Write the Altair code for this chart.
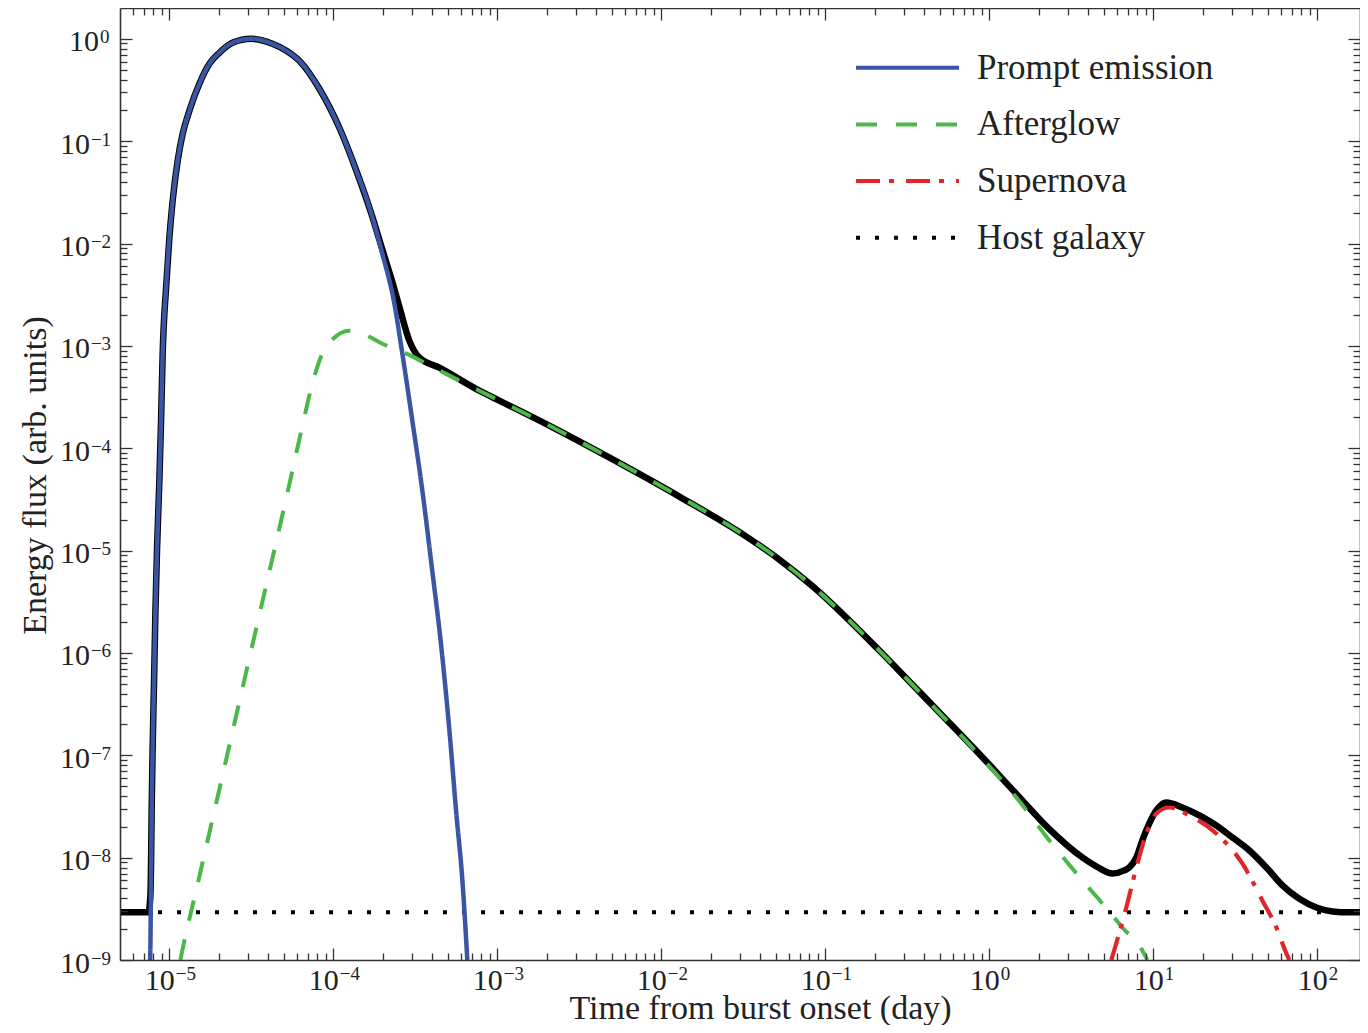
import altair as alt
import pandas as pd

# ---------------- data ----------------
prompt_t = [7.637e-6, 7.659e-6, 7.734e-6, 7.800e-6, 7.910e-6, 8.067e-6, 8.216e-6,
            8.414e-6, 8.689e-6, 8.899e-6, 9.103e-6, 9.547e-6, 1.0e-5, 1.0474e-5,
            1.1237e-5, 1.2054e-5, 1.3243e-5, 1.5237e-5, 1.7538e-5, 2.0184e-5,
            2.4222e-5, 3.1623e-5, 4.25e-5, 5.169e-5, 6.20e-5, 8.21e-5, 1.088e-4,
            1.381e-4, 1.705e-4, 1.99e-4, 2.355e-4, 2.634e-4, 3.03e-4, 3.488e-4,
            3.96e-4, 4.555e-4, 5.10e-4, 5.62e-4, 6.12e-4, 6.56e-4]
prompt_f = [1e-9, 1.328e-9, 5.99e-9, 2.70e-8, 1.192e-7, 5.375e-7, 2.425e-6,
            1.070e-5, 4.828e-5, 1.860e-4, 8.39e-4, 3.70e-3, 1.139e-2, 2.618e-2,
            6.436e-2, 0.1181, 0.1981, 0.3635, 0.5700, 0.7302,
            0.9141, 1.0, 0.894, 0.7636, 0.6095, 0.3249, 0.1351,
            0.0514, 0.01954, 7.94e-3, 2.58e-3, 8.39e-4, 1.862e-4, 3.855e-5,
            7.46e-6, 1.13e-6, 1.747e-7, 2.70e-8, 5.99e-9, 1e-9]

afterglow_t = [1.167e-5, 1.200e-5, 1.524e-5, 1.934e-5, 2.421e-5, 3.162e-5, 3.903e-5,
               5.17e-5, 6.38e-5, 7.34e-5, 8.45e-5, 9.72e-5, 1.252e-4, 1.502e-4,
               1.99e-4, 2.787e-4, 3.69e-4, 5.10e-4, 7.77e-4, 1.028e-3, 1.99e-3,
               5.02e-3, 1.288e-2, 3.30e-2, 5.24e-2, 8.33e-2, 0.1343, 0.2135,
               0.339, 0.547, 0.869, 1.461, 2.322, 3.69, 4.887, 6.47, 8.57, 9.19]
afterglow_f = [1e-9, 1.24e-9, 6.55e-9, 3.46e-8, 1.67e-7, 1.079e-6, 4.66e-6,
               3.30e-5, 1.486e-4, 3.91e-4, 8.02e-4, 1.125e-3, 1.407e-3, 1.315e-3,
               1.05e-3, 8.39e-4, 6.70e-4, 5.12e-4, 3.65e-4, 2.92e-4, 1.72e-4,
               7.82e-5, 3.37e-5, 1.370e-5, 8.17e-6, 4.50e-6, 2.216e-6, 1.055e-6,
               4.913e-7, 2.203e-7, 1.002e-7, 3.87e-8, 1.472e-8, 5.99e-9, 3.57e-9,
               2.08e-9, 1.24e-9, 1e-9]

supernova_t = [5.545, 6.845, 7.88, 9.066, 10.43, 12.52, 16.58, 24.22, 34.88,
               46.2, 56.2, 64.7, 67.5]
supernova_f = [1e-9, 3.27e-9, 8.02e-9, 1.72e-8, 2.70e-8, 3.09e-8, 2.58e-8,
               1.72e-8, 8.77e-9, 3.82e-9, 2.08e-9, 1.16e-9, 1e-9]

host_t = [5e-6, 200]
host_f = [2.92e-9, 2.92e-9]

total_t = [5e-6, 7.45e-6, 7.659e-6, 7.734e-6, 7.800e-6, 7.910e-6, 8.067e-6, 8.216e-6,
           8.414e-6, 8.689e-6, 8.899e-6, 9.103e-6, 9.547e-6, 1.0e-5, 1.0474e-5,
           1.1237e-5, 1.2054e-5, 1.3243e-5, 1.5237e-5, 1.7538e-5, 2.0184e-5,
           2.4222e-5, 3.1623e-5, 4.25e-5, 5.169e-5, 6.20e-5, 8.21e-5, 1.088e-4,
           1.381e-4, 1.705e-4, 1.99e-4, 2.258e-4, 2.526e-4, 2.905e-4, 3.345e-4,
           4.43e-4, 7.77e-4, 1.028e-3, 1.99e-3, 5.02e-3, 1.288e-2, 3.30e-2,
           5.24e-2, 8.33e-2, 0.1343, 0.2135, 0.339, 0.547, 0.869, 1.461, 2.322,
           3.69, 4.686, 5.623, 6.65, 7.14, 7.88, 8.567, 9.45, 10.43, 12.0, 15.03,
           19.08, 24.2, 30.31, 38.5, 48.87, 61.2, 77.7, 98.6, 123.4, 156.7, 200]
total_f = [2.92e-9, 2.92e-9, 4.25e-9, 8.9e-9, 2.99e-8, 1.22e-7, 5.375e-7, 2.425e-6,
           1.070e-5, 4.828e-5, 1.860e-4, 8.39e-4, 3.70e-3, 1.139e-2, 2.618e-2,
           6.436e-2, 0.1181, 0.1981, 0.3635, 0.5700, 0.7302,
           0.9141, 1.0, 0.894, 0.7636, 0.6095, 0.3249, 0.1351,
           0.0514, 0.01954, 8.70e-3, 4.53e-3, 2.41e-3, 1.125e-3, 7.67e-4,
           6.12e-4, 3.65e-4, 2.92e-4, 1.72e-4, 7.82e-5, 3.37e-5, 1.370e-5,
           8.17e-6, 4.50e-6, 2.216e-6, 1.055e-6, 4.913e-7, 2.23e-7, 1.03e-7,
           4.2e-8, 1.9e-8, 1.005e-8, 7.9e-9, 7.0e-9, 7.5e-9, 8.02e-9, 1.005e-8,
           1.472e-8, 2.16e-8, 2.89e-8, 3.46e-8, 3.09e-8, 2.583e-8, 2.06e-8,
           1.575e-8, 1.175e-8, 8.02e-9, 5.35e-9, 3.96e-9, 3.26e-9, 2.98e-9,
           2.92e-9, 2.92e-9]

series_names = ["Prompt emission", "Afterglow", "Supernova", "Host galaxy"]
series_colors = ["#3a55a4", "#4cb74a", "#e0262b", "#000000"]
series_dashes = [[1, 0], [21, 19], [24, 9, 5, 12], [4, 15]]

x_domain = [5e-6, 182]
y_domain = [1e-9, 2]
x_exponents = [-5, -4, -3, -2, -1, 0, 1, 2]
y_exponents = [-9, -8, -7, -6, -5, -4, -3, -2, -1, 0]

x_major = [10.0 ** e for e in x_exponents]
y_major = [10.0 ** e for e in y_exponents]
x_minor = [m * 10.0 ** k for k in range(-6, 3) for m in range(2, 10)
           if 5e-6 < m * 10.0 ** k < 182]
y_minor = [m * 10.0 ** k for k in range(-9, 1) for m in range(2, 10)
           if m * 10.0 ** k < 2]


def frame(name, ts, fs):
    return pd.DataFrame({"t": ts, "f": fs, "series": name})


df_prompt = frame("Prompt emission", prompt_t, prompt_f)
df_after = frame("Afterglow", afterglow_t, afterglow_f)
df_sn = frame("Supernova", supernova_t, supernova_f)
df_host = frame("Host galaxy", host_t, host_f)
df_total = frame("Total", total_t, total_f)

# ---------------- styling ----------------
SERIF = "Liberation Serif"
FRAME = "#333333"
TXT = "#222222"
EXP_EXPR = "replace('' + round(log(datum.value) / LN10), '-', '\u2212')"

common = dict(grid=False, domainColor=FRAME, domainWidth=1.6, tickColor=FRAME,
              tickWidth=1.3, zindex=1, labelFont=SERIF, titleFont=SERIF,
              labelColor=TXT, titleColor=TXT, labelFlush=False,
              labelOverlap=False)

x_off_base = {"condition": {"test": "datum.value < 1", "value": 5}, "value": 10}
x_off_exp = {"condition": {"test": "datum.value < 1", "value": 6}, "value": 11}
y_pad_base = {"condition": {"test": "datum.value >= 1", "value": 33.5}, "value": 42.6}
y_pad_exp = {"condition": {"test": "datum.value >= 1", "value": 32.5}, "value": 41.6}

ax_x_base = alt.Axis(orient="bottom", values=x_major, tickSize={"expr": "-12"},
                     labelExpr="'10'", labelFontSize=30, labelAlign="right",
                     labelBaseline="top", labelPadding=17, labelOffset=x_off_base,
                     title="Time from burst onset (day)", titleFontSize=34,
                     titleFontWeight="normal", titleX=640, titleY=58,
                     titleBaseline="alphabetic", titleAlign="center", **common)
ax_x_exp = alt.Axis(orient="bottom", values=x_major, tickSize={"expr": "-12"},
                    tickOpacity=0, domain=False, labelExpr=EXP_EXPR,
                    labelFontSize=19, labelAlign="left", labelBaseline="top",
                    labelPadding=16, labelOffset=x_off_exp, title=None, **common)
ax_x_minor = alt.Axis(orient="bottom", values=x_minor, tickSize={"expr": "-7"},
                      labels=False, domain=False, title=None, **common)
ax_x_top = alt.Axis(orient="top", values=x_major, tickSize={"expr": "-12"},
                    labels=False, title=None, **common)
ax_x_top_minor = alt.Axis(orient="top", values=x_minor, tickSize={"expr": "-7"},
                          labels=False, domain=False, title=None, **common)

ax_y_base = alt.Axis(orient="left", values=y_major, tickSize={"expr": "-12"},
                     labelExpr="'10'", labelFontSize=30, labelAlign="right",
                     labelBaseline="middle", labelPadding=y_pad_base, labelOffset=3,
                     title="Energy flux (arb. units)", titleFontSize=34,
                     titleFontWeight="normal", titleX=-75, titleY=467,
                     titleAngle=270, titleBaseline="alphabetic",
                     titleAlign="center", **common)
ax_y_exp = alt.Axis(orient="left", values=y_major, tickSize={"expr": "-12"},
                    tickOpacity=0, domain=False, labelExpr=EXP_EXPR,
                    labelFontSize=19, labelAlign="left", labelBaseline="middle",
                    labelPadding=y_pad_exp, labelOffset=-2, title=None, **common)
ax_y_minor = alt.Axis(orient="left", values=y_minor, tickSize={"expr": "-7"},
                      labels=False, domain=False, title=None, **common)
ax_y_right = alt.Axis(orient="right", values=y_major, tickSize={"expr": "-12"},
                      labels=False, title=None, **common)
ax_y_right_minor = alt.Axis(orient="right", values=y_minor, tickSize={"expr": "-7"},
                            labels=False, domain=False, title=None, **common)

xs = alt.Scale(type="log", domain=x_domain, nice=False)
ys = alt.Scale(type="log", domain=y_domain, nice=False)
color_scale = alt.Scale(domain=series_names, range=series_colors)
dash_scale = alt.Scale(domain=series_names, range=series_dashes)

legend = alt.Legend(title=None, orient="none", legendX=736, legendY=42.2,
                    padding=0, symbolType="M-3.5,0H17.1", symbolSize=100,
                    symbolStrokeWidth=4, labelFont=SERIF, labelFontSize=35,
                    labelColor=TXT, labelOffset=86, rowPadding=20.7,
                    labelLimit=500)


def line(df, x_axis, y_axis, width, in_legend=True):
    enc = dict(x=alt.X("t:Q", scale=xs, axis=x_axis),
               y=alt.Y("f:Q", scale=ys, axis=y_axis))
    if in_legend:
        enc["color"] = alt.Color("series:N", scale=color_scale, legend=legend)
        enc["strokeDash"] = alt.StrokeDash("series:N", scale=dash_scale,
                                           legend=legend)
    else:
        enc["color"] = alt.value("#000000")
    return alt.Chart(df).mark_line(strokeWidth=width, clip=True,
                                   interpolate="monotone",
                                   strokeJoin="round").encode(**enc)


total = line(df_total, ax_x_base, ax_y_base, 6.5, in_legend=False)
host = line(df_host, ax_x_exp, ax_y_exp, 4)
after = line(df_after, ax_x_minor, ax_y_minor, 4)
sn = line(df_sn, ax_x_top, ax_y_right, 4.2)
prompt = line(df_prompt, ax_x_top_minor, ax_y_right_minor, 4.5)

chart = (
    alt.layer(total, host, after, sn, prompt)
    .resolve_axis(x="independent", y="independent")
    .properties(width=1240, height=952,
                autosize=alt.AutoSizeParams(type="none"),
                padding={"left": 112, "top": 0, "right": 0, "bottom": 65})
    .configure_view(stroke="transparent")
)

chart.save("out.html", embed_options={"renderer": "svg", "actions": False})
